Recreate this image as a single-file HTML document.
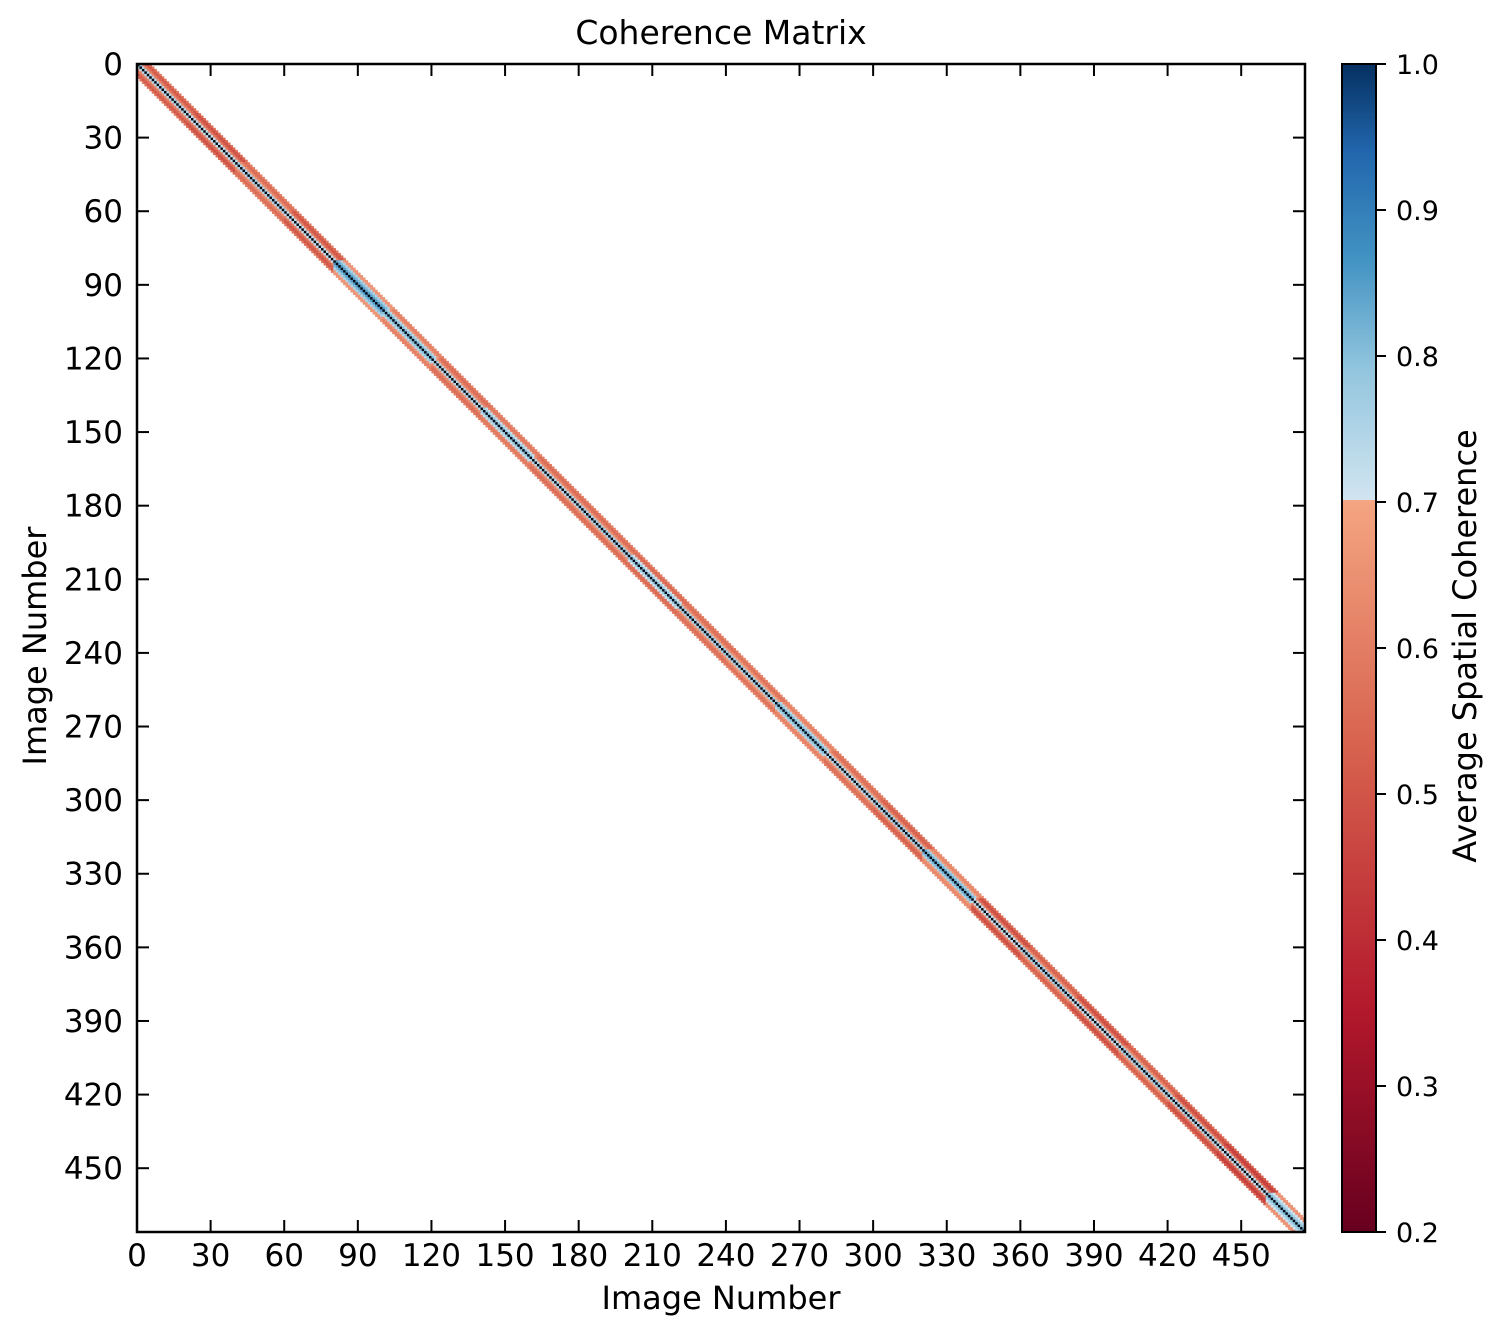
<!DOCTYPE html>
<html><head><meta charset="utf-8"><style>
html,body{margin:0;padding:0;background:#fff;}
svg{display:block;font-family:"DejaVu Sans","Liberation Sans",sans-serif;}
</style></head><body>
<svg id="chart" width="1504" height="1338" viewBox="0 0 1504 1338" xmlns="http://www.w3.org/2000/svg">
<defs>
<linearGradient id="cbRed" x1="0" y1="1" x2="0" y2="0">
<stop offset="0" stop-color="#67001f"/><stop offset="0.3" stop-color="#b2182b"/><stop offset="0.65" stop-color="#d6604d"/><stop offset="1" stop-color="#f4a582"/>
</linearGradient>
<linearGradient id="cbBlue" x1="0" y1="1" x2="0" y2="0">
<stop offset="0" stop-color="#d1e5f0"/><stop offset="0.3" stop-color="#92c5de"/><stop offset="0.55" stop-color="#4393c3"/><stop offset="0.8" stop-color="#2166ac"/><stop offset="1" stop-color="#053061"/>
</linearGradient>
</defs>
<text x="721" y="44" font-size="33" text-anchor="middle">Coherence Matrix</text>
<g id="cells"></g>
<rect x="137" y="64" width="1168" height="1168" fill="none" stroke="#000" stroke-width="2.5"/>
<g id="axes"></g>
<text x="721" y="1309" font-size="32" text-anchor="middle">Image Number</text>
<text x="46" y="646" font-size="32" text-anchor="middle" transform="rotate(-90 46 646)">Image Number</text>
<g>
<rect x="1342" y="500" width="34" height="732" fill="url(#cbRed)"/>
<rect x="1342" y="64" width="34" height="436" fill="url(#cbBlue)"/>
<rect x="1342" y="64" width="34" height="1168" fill="none" stroke="#000" stroke-width="2"/>
<g id="cbticks"></g>
<text x="1476" y="646" font-size="32" text-anchor="middle" transform="rotate(-90 1476 646)">Average Spatial Coherence</text>
</g>
</svg>
<script>
const N = 476;
const segStart = [0,20,40,60,80,100,120,140,160,180,200,220,240,260,280,300,320,340,360,380,400,420,440,460];
const off1 = [0.74,0.72,0.75,0.72,0.85,0.80,0.74,0.78,0.74,0.76,0.78,0.76,0.76,0.80,0.74,0.76,0.82,0.72,0.76,0.72,0.76,0.74,0.72,0.80];
const off2 = [0.62,0.60,0.65,0.60,0.80,0.74,0.64,0.72,0.64,0.66,0.70,0.66,0.68,0.74,0.66,0.64,0.76,0.60,0.64,0.60,0.66,0.60,0.56,0.75];
const off3 = [0.55,0.52,0.58,0.52,0.75,0.66,0.58,0.62,0.58,0.58,0.58,0.58,0.60,0.66,0.58,0.55,0.68,0.50,0.56,0.50,0.56,0.50,0.46,0.70];
const off4 = [0.50,0.48,0.55,0.50,0.66,0.60,0.55,0.58,0.55,0.55,0.54,0.56,0.56,0.60,0.56,0.52,0.62,0.48,0.52,0.48,0.52,0.48,0.44,0.64];
const off5 = [0.58,0.56,0.60,0.58,0.66,0.62,0.60,0.62,0.60,0.60,0.60,0.60,0.62,0.64,0.60,0.58,0.64,0.56,0.58,0.56,0.58,0.56,0.52,0.66];
const xTicks = [0,30,60,90,120,150,180,210,240,270,300,330,360,390,420,450];
const cbTicks = [0.2,0.3,0.4,0.5,0.6,0.7,0.8,0.9,1.0];

const NS = "http://www.w3.org/2000/svg";
const X0 = 137, Y0 = 64, SZ = 1168;
const cell = SZ / N;
const sx = v => X0 + v * cell;
const sy = v => Y0 + v * cell;
const cy = v => 1232 - (v - 0.2) / 0.8 * 1168;

function lerp(stops, t){
  for (let i=1;i<stops.length;i++){
    if (t <= stops[i][0]){
      const a=stops[i-1], b=stops[i], f=(t-a[0])/(b[0]-a[0]);
      const c=[0,1,2].map(k=>Math.round(a[1][k]+(b[1][k]-a[1][k])*f));
      return `rgb(${c[0]},${c[1]},${c[2]})`;
    }
  }
  const l=stops[stops.length-1][1]; return `rgb(${l[0]},${l[1]},${l[2]})`;
}
const redStops=[[0,[103,0,31]],[0.3,[178,24,43]],[0.65,[214,96,77]],[1,[244,165,130]]];
const blueStops=[[0,[209,229,240]],[0.3,[146,197,222]],[0.55,[67,147,195]],[0.8,[33,102,172]],[1,[5,48,97]]];
function color(v){
  if (v < 0.7) return lerp(redStops, Math.max(0,(v-0.2)/0.5));
  return lerp(blueStops, Math.min(1,(v-0.7)/0.3));
}
function segOf(i){ let s=0; for (let k=0;k<segStart.length;k++) if (i>=segStart[k]) s=k; return s; }
const offs = [null, off1, off2, off3, off4, off5];

const g = document.getElementById('cells');
for (let i=0;i<N;i++){
  for (let d=-5; d<=5; d++){
    const j=i+d; if (j<0||j>=N) continue;
    const s=segOf(Math.min(i,j));
    const ad=Math.abs(d);
    const v = ad===0 ? 1.0 : offs[ad][s];
    const r=document.createElementNS(NS,'rect');
    r.setAttribute('x', sx(j)); r.setAttribute('y', sy(i));
    r.setAttribute('width', cell+0.3); r.setAttribute('height', cell+0.3);
    r.setAttribute('fill', ad===0 ? '#000814' : color(v));
    
    
    g.appendChild(r);
  }
}
const ax = document.getElementById('axes');
function line(x1,y1,x2,y2,name,parent,w){
  const l=document.createElementNS(NS,'line');
  l.setAttribute('x1',x1);l.setAttribute('y1',y1);l.setAttribute('x2',x2);l.setAttribute('y2',y2);
  l.setAttribute('stroke','#000');l.setAttribute('stroke-width',w||2);
  
  
  parent.appendChild(l);
}
function text(x,y,s,anchor,size,name,parent){
  const t=document.createElementNS(NS,'text');
  t.setAttribute('x',x);t.setAttribute('y',y);t.setAttribute('text-anchor',anchor);t.setAttribute('font-size',size);
  t.textContent=s;
  
  
  parent.appendChild(t);
}
xTicks.forEach(v=>{
  const px=sx(v), py=sy(v);
  line(px,1232,px,1220,'x-tick',ax);
  line(px,64,px,76,'x-tick-top',ax);
  line(137,py,149,py,'y-tick',ax);
  line(1305,py,1293,py,'y-tick-right',ax);
  text(px,1266,String(v),'middle',31,'x-tick-label',ax);
  text(123,py+11,String(v),'end',31,'y-tick-label',ax);
});
const cb = document.getElementById('cbticks');
cbTicks.forEach(v=>{
  const py=cy(v);
  line(1376,py,1386,py,'colorbar-tick',cb);
  text(1396,py+10,v.toFixed(1),'start',27,'colorbar-tick-label',cb);
});
</script>
</body></html>
